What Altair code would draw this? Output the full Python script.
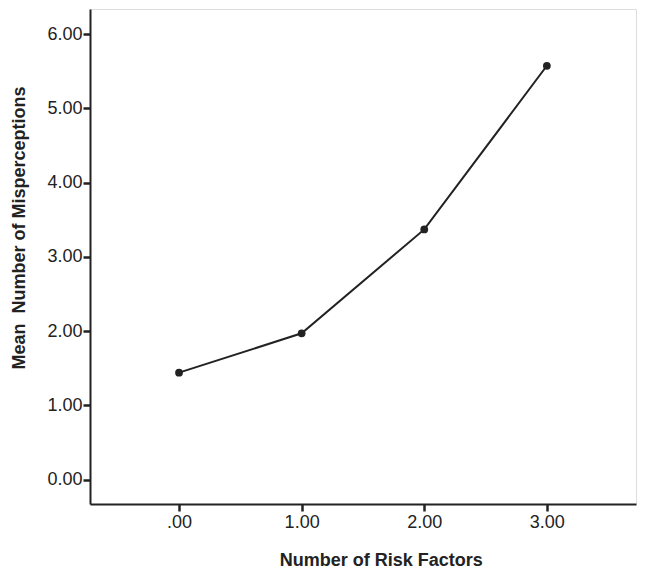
import altair as alt
import pandas as pd

risk_factors = [0, 1, 2, 3]
mean_misperceptions = [1.44, 1.97, 3.37, 5.575]

df = pd.DataFrame({"risk": risk_factors, "mean": mean_misperceptions})

FONT = "Liberation Sans"
INK = "#222222"

x = alt.X(
    "risk:Q",
    scale=alt.Scale(domain=[-0.726, 3.727], nice=False, zero=False),
    axis=alt.Axis(
        title="Number of Risk Factors",
        values=[0, 1, 2, 3],
        labelExpr="datum.value == 0 ? '.00' : format(datum.value, '.2f')",
        grid=False,
        tickSize=7,
        tickWidth=2.5,
        tickColor=INK,
        domainColor=INK,
        domainWidth=2,
        labelFont=FONT,
        labelFontSize=18,
        labelColor=INK,
        labelPadding=2,
        titleFont=FONT,
        titleFontSize=18,
        titleFontWeight="bold",
        titleColor=INK,
        titleX=290.7,
        titleY=56,
        titleBaseline="middle",
        titleAlign="center",
    ),
)

y = alt.Y(
    "mean:Q",
    scale=alt.Scale(domain=[-0.33, 6.34], nice=False, zero=False),
    axis=alt.Axis(
        title="Mean\u00a0 Number of Misperceptions",
        values=[0, 1, 2, 3, 4, 5, 6],
        format=".2f",
        grid=False,
        tickSize=7,
        tickWidth=2.5,
        tickColor=INK,
        domainColor=INK,
        domainWidth=2,
        labelFont=FONT,
        labelFontSize=18,
        labelColor=INK,
        labelPadding=1,
        titleFont=FONT,
        titleFontSize=18,
        titleFontWeight="bold",
        titleColor=INK,
        titleX=-71,
        titleY=218.5,
        titleBaseline="middle",
        titleAlign="center",
    ),
)

base = alt.Chart(df)
line = base.mark_line(color=INK, strokeWidth=2).encode(x=x, y=y)
points = base.mark_point(filled=True, color=INK, size=60, opacity=1).encode(x=x, y=y)

chart = (
    (line + points)
    .properties(
        width=546,
        height=495,
        autosize=alt.AutoSizeParams(type="none"),
        padding={"left": 82, "top": 1, "right": 1, "bottom": 64},
    )
    .configure_view(stroke=INK, strokeWidth=1.5)
    .configure(background="white")
)

chart.save("out.html", embed_options={"renderer": "svg", "actions": False})
